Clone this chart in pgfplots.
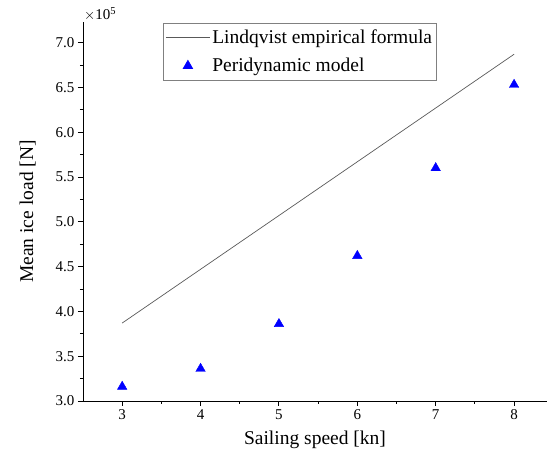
\documentclass[border=0pt]{standalone}
\usepackage{fontspec}
\setmainfont{Liberation Serif}
\usepackage{pgfplots}
\pgfplotsset{compat=1.18}
\begin{document}
\begin{tikzpicture}
\begin{axis}[
  at={(0,0)}, anchor=south west,
  scale only axis,
  width=464pt, height=379pt,
  xmin=2.5, xmax=8.42,
  ymin=3.0, ymax=7.23,
  axis lines*=left,
  axis line style={-, black, line width=0.9pt},
  xtick={3,4,5,6,7,8},
  ytick={3.0,3.5,4.0,4.5,5.0,5.5,6.0,6.5,7.0},
  minor x tick num=1, minor y tick num=1,
  tick align=outside, tick pos=left,
  major tick length=5pt, minor tick length=3pt,
  every tick/.style={black, line width=0.9pt},
  xticklabel={\pgfmathprintnumber[assume math mode=true]{\tick}},
  yticklabel={\pgfmathprintnumber[assume math mode=true, fixed, fixed zerofill, precision=1]{\tick}},
  yticklabel style={font=\rmfamily\fontsize{15}{16}\selectfont},
  xticklabel style={font=\rmfamily\fontsize{15}{16}\selectfont},
  scaled y ticks=false,
  xlabel={Sailing speed [kn]},
  ylabel={Mean ice load [N]},
  xlabel shift=4pt,
  ylabel shift=13pt,
  label style={font=\fontsize{19.5}{22}\selectfont},
  legend style={at={(rel axis cs:0.173,0.998)}, anchor=north west, draw=gray, line width=0.6pt, font=\fontsize{19.5}{22}\selectfont, row sep=9pt, inner xsep=2pt, inner ysep=5pt},
  legend cell align=left,
  clip=false,
]
\addplot[color=black!65, line width=0.7pt, mark=none,
  legend image code/.code={\draw[black!65, line width=0.7pt] (0pt,0pt) -- (44pt,0pt);}]
  coordinates {(3,3.87) (8,6.87)};
\addlegendentry{Lindqvist empirical formula}
\addplot[only marks, mark=triangle*, mark size=5.5pt, color=blue, fill=blue,
  legend image code/.code={\draw[blue, fill=blue] plot[mark=triangle*, mark size=5.5pt] coordinates {(22pt,0pt)};}]
  coordinates {(3,3.16) (4,3.36) (5,3.86) (6,4.62) (7,5.60) (8,6.53)};
\addlegendentry{Peridynamic model}
\node[anchor=south west, inner sep=1pt, font=\fontsize{15}{17}\selectfont] at (rel axis cs:0,1) {$\times$10\textsuperscript{5}};
\end{axis}
\pgfresetboundingbox
\useasboundingbox (-83pt,-57pt) rectangle (464pt,401pt);
\end{tikzpicture}
\end{document}
